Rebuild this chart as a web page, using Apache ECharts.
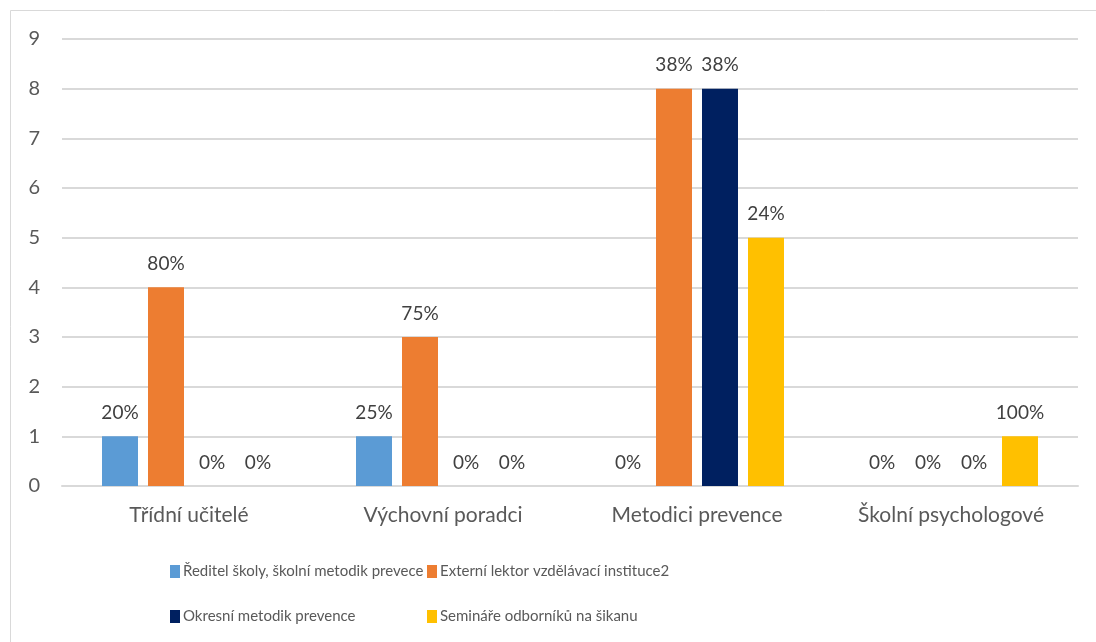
<!DOCTYPE html>
<html>
<head>
<meta charset="utf-8">
<script src="https://cdn.jsdelivr.net/npm/echarts@6/dist/echarts.min.js"></script>
<style>html,body{margin:0;padding:0;background:#fff}#c{width:1096px;height:642px}</style>
</head>
<body>
<div id="c"></div>
<script>
const categories = ['Třídní učitelé', 'Výchovní poradci', 'Metodici prevence', 'Školní psychologové'];
const seriesNames = ['Ředitel školy, školní metodik prevece', 'Externí lektor vzdělávací instituce2', 'Okresní metodik prevence', 'Semináře odborníků na šikanu'];
const reditelValues = [1, 1, 0, 0];
const externiValues = [4, 3, 8, 0];
const okresniValues = [0, 0, 8, 0];
const seminareValues = [0, 0, 5, 1];
const reditelLabels = ['20%', '25%', '0%', '0%'];
const externiLabels = ['80%', '75%', '38%', '0%'];
const okresniLabels = ['0%', '0%', '38%', '0%'];
const seminareLabels = ['0%', '0%', '24%', '100%'];
const yTicks = [0, 1, 2, 3, 4, 5, 6, 7, 8, 9];
const colors = ['#5B9BD5', '#ED7D31', '#002060', '#FFC000'];

const FONT = 'Lato';
const valuesList = [reditelValues, externiValues, okresniValues, seminareValues];
const labelsList = [reditelLabels, externiLabels, okresniLabels, seminareLabels];

const legendBase = {
  orient: 'vertical', top: 564, padding: 0,
  itemWidth: 10, itemHeight: 13, itemGap: 30, icon: 'rect',
  textStyle: { fontSize: 15, color: '#595959', fontFamily: FONT, padding: [0, 0, 0, -2] }
};

const chart = echarts.init(document.getElementById('c'));
chart.setOption({
  animation: false,
  backgroundColor: '#fff',
  textStyle: { fontFamily: FONT },
  graphic: [{
    type: 'rect', shape: { x: 10.5, y: 10.5, width: 1100, height: 700 },
    style: { fill: 'none', stroke: '#d9d9d9', lineWidth: 1 }, silent: true
  }],
  grid: { left: 62, right: 18, top: 39, bottom: 156 },
  legend: [
    Object.assign({}, legendBase, { data: [seriesNames[0], seriesNames[2]], left: 170 }),
    Object.assign({}, legendBase, { data: [seriesNames[1], seriesNames[3]], left: 427 })
  ],
  xAxis: {
    type: 'category', data: categories,
    axisTick: { show: false },
    axisLine: { lineStyle: { color: '#d9d9d9', width: 2 } },
    axisLabel: { fontSize: 21, color: '#595959', margin: 19, fontFamily: FONT }
  },
  yAxis: {
    type: 'value', min: 0, max: 9, interval: 1,
    axisLine: { show: false }, axisTick: { show: false },
    splitLine: { lineStyle: { color: '#d9d9d9', width: 2 } },
    axisLabel: { fontSize: 20, color: '#595959', margin: 22, fontFamily: FONT,
      formatter: v => yTicks.includes(v) ? String(v) : '' }
  },
  series: seriesNames.map((name, i) => ({
    name, type: 'bar', data: valuesList[i],
    barGap: '27.8%', barCategoryGap: '31.5%',
    itemStyle: { color: colors[i] },
    label: {
      show: true, position: 'top', distance: 14,
      fontSize: 19, color: '#404040', fontFamily: FONT,
      formatter: p => labelsList[i][p.dataIndex]
    }
  }))
});
</script>
</body>
</html>
